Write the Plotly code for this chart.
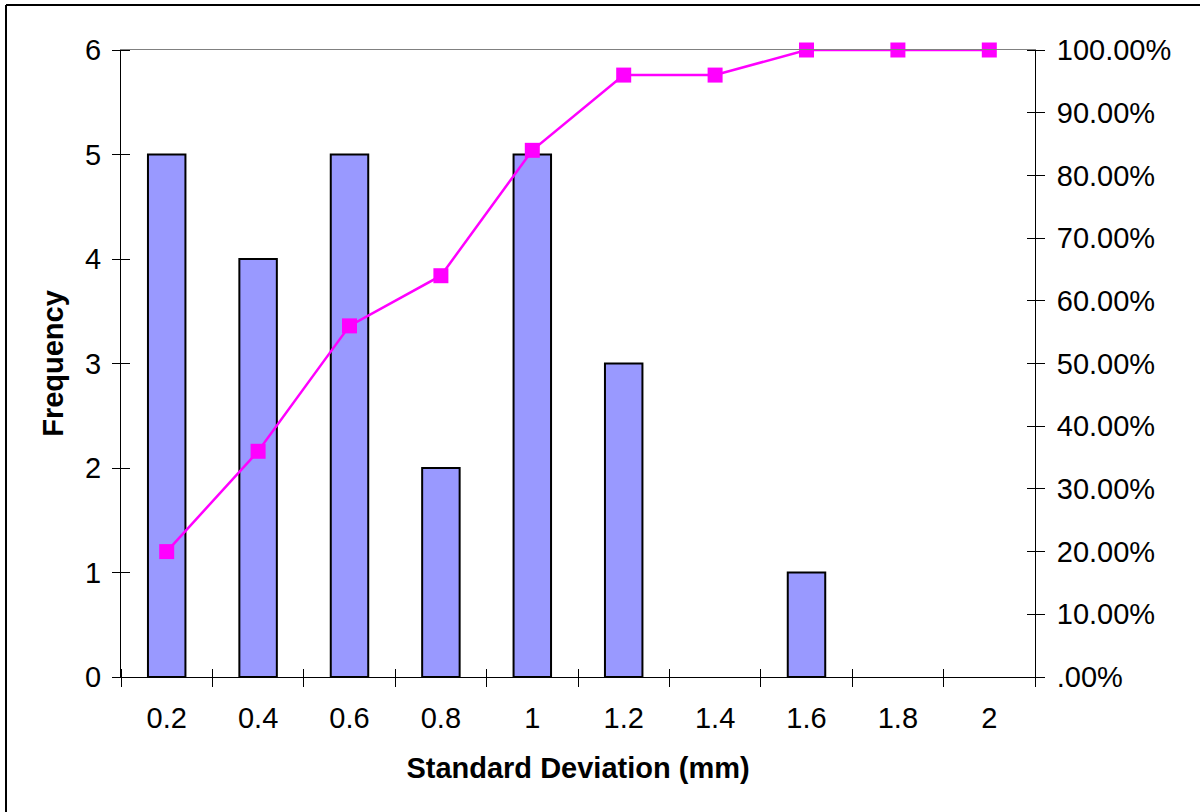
import plotly.graph_objects as go

# Histogram of standard deviations with cumulative percentage
sd_bins = [0.2, 0.4, 0.6, 0.8, 1.0, 1.2, 1.4, 1.6, 1.8, 2.0]
bin_labels = ["0.2", "0.4", "0.6", "0.8", "1", "1.2", "1.4", "1.6", "1.8", "2"]
frequency = [5, 4, 5, 2, 5, 3, 0, 1, 0, 0]
cumulative_pct = [0.20, 0.36, 0.56, 0.64, 0.84, 0.96, 0.96, 1.00, 1.00, 1.00]

freq_ticks = [0, 1, 2, 3, 4, 5, 6]
pct_ticks = [0.0, 0.1, 0.2, 0.3, 0.4, 0.5, 0.6, 0.7, 0.8, 0.9, 1.0]
pct_labels = [".00%", "10.00%", "20.00%", "30.00%", "40.00%", "50.00%",
              "60.00%", "70.00%", "80.00%", "90.00%", "100.00%"]

step = sd_bins[1] - sd_bins[0]
x_range = [sd_bins[0] - step / 2, sd_bins[-1] + step / 2]
# bin boundaries for the x tick marks
boundaries = [sd_bins[0] - step / 2] + [v + step / 2 for v in sd_bins]

FONT = "Liberation Sans, Arial, sans-serif"
TICK_SIZE = 29
AXIS_COLOR = "#000000"

# plot area size in pixels, used to make tick marks cross the axis lines
ML, MR, MT, MB = 121, 165, 50, 135
PW, PH = 1200 - ML - MR, 812 - MT - MB
HALF_TICK = 9

fig = go.Figure()
fig.add_trace(go.Bar(
    x=sd_bins, y=frequency, width=step * 0.41,
    marker=dict(color="#9999FF",
                line=dict(color="#000000",
                          width=[2 if f > 0 else 0 for f in frequency])),
    xaxis="x", yaxis="y", showlegend=False,
))
fig.add_trace(go.Scatter(
    x=sd_bins, y=cumulative_pct, mode="lines+markers",
    line=dict(color="#FF00FF", width=2.5),
    marker=dict(symbol="square", size=15, color="#FF00FF"),
    cliponaxis=False,
    xaxis="x", yaxis="y2", showlegend=False,
))

# invisible carriers so the helper tick axes are rendered
for xa, ya in (("x3", "y3"), ("x5", "y4")):
    fig.add_trace(go.Scatter(
        x=[sd_bins[0]], y=[0], mode="markers", marker=dict(opacity=0),
        hoverinfo="skip", showlegend=False, xaxis=xa, yaxis=ya,
    ))

tick_font = dict(family=FONT, size=TICK_SIZE, color="#000000")
title_font = dict(family=FONT, size=29, color="#000000")

helper = dict(showticklabels=False, showgrid=False, zeroline=False,
              showline=False, fixedrange=True, ticks="outside",
              ticklen=2 * HALF_TICK, tickcolor=AXIS_COLOR, tickwidth=1)

fig.update_layout(
    width=1200, height=812,
    margin=dict(l=ML, r=MR, t=MT, b=MB),
    paper_bgcolor="white", plot_bgcolor="white",
    xaxis=dict(
        range=x_range, tickvals=sd_bins, ticktext=bin_labels, ticks="",
        showline=True, linecolor=AXIS_COLOR, linewidth=1, showgrid=False,
        zeroline=False, tickfont=tick_font, ticklabelstandoff=15,
        title=dict(text="<b>Standard Deviation (mm)</b>", font=title_font, standoff=24),
    ),
    # crossing tick marks at bin boundaries
    xaxis3=dict(overlaying="x", anchor="free", position=HALF_TICK / PH,
                side="bottom", range=x_range, tickvals=boundaries, **helper),
    # grey border along the top of the plot area
    xaxis5=dict(overlaying="x", anchor="y", side="top", range=x_range,
                ticks="", showline=True, linecolor="#808080", linewidth=1,
                showticklabels=False, showgrid=False, zeroline=False),
    yaxis=dict(
        range=[0, 6], tickvals=freq_ticks, ticks="", showline=True,
        linecolor=AXIS_COLOR, linewidth=1, showgrid=False, zeroline=False,
        tickfont=tick_font, ticklabelstandoff=13,
        title=dict(text="<b>Frequency</b>", font=title_font, standoff=12),
    ),
    # crossing tick marks on the frequency axis
    yaxis3=dict(overlaying="y", anchor="free", position=HALF_TICK / PW,
                side="left", range=[0, 6], tickvals=freq_ticks, **helper),
    yaxis2=dict(
        overlaying="y", anchor="x", side="right", range=[0, 1],
        tickvals=pct_ticks, ticktext=pct_labels, ticks="", showline=True,
        linecolor=AXIS_COLOR, linewidth=1, showgrid=False, zeroline=False,
        tickfont=tick_font, ticklabelstandoff=15,
    ),
    # crossing tick marks on the percentage axis
    yaxis4=dict(overlaying="y", anchor="free", position=1 - HALF_TICK / PW,
                side="right", range=[0, 1], tickvals=pct_ticks, **helper),
    shapes=[
        dict(type="line", xref="paper", yref="paper",
             x0=(6 - ML) / PW, x1=(6 - ML) / PW, y0=-1.0, y1=1 + 45 / PH,
             line=dict(color="#000000", width=2), layer="below"),
        dict(type="line", xref="paper", yref="paper",
             x0=(6 - ML) / PW, x1=2.0, y0=1 + 45 / PH, y1=1 + 45 / PH,
             line=dict(color="#000000", width=2), layer="below"),
    ],
)

fig.write_html("out.html")
